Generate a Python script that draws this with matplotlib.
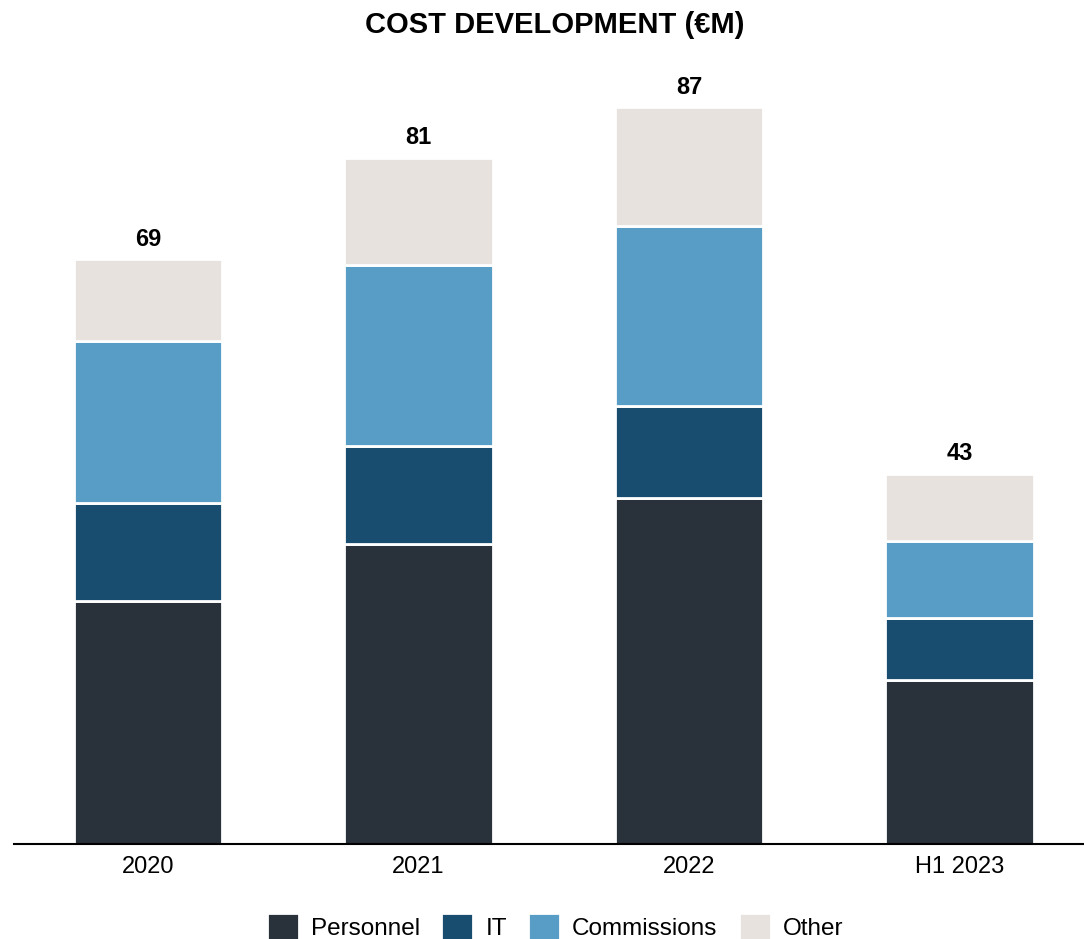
import matplotlib.pyplot as plt
import numpy as np

plt.rcParams['font.family'] = ['Liberation Sans', 'DejaVu Sans']

CATEGORIES = ["2020", "2021", "2022", "H1 2023"]
PERSONNEL = [28.7, 35.4, 40.8, 19.4]
IT = [11.6, 11.6, 10.9, 7.3]
COMMISSIONS = [19.1, 21.4, 21.3, 9.1]
OTHER = [9.6, 12.6, 14.0, 7.9]
TOTALS = [69, 81, 87, 43]

SERIES = [("Personnel", PERSONNEL, "#29313b"),
          ("IT", IT, "#184d70"),
          ("Commissions", COMMISSIONS, "#579dc6"),
          ("Other", OTHER, "#e7e2dd")]

fig = plt.figure(figsize=(10.84, 9.39), dpi=100)
ax = fig.add_axes([0.013, 0.1012, 0.987, 0.857])

x = np.arange(len(CATEGORIES))
bottom = np.zeros(len(CATEGORIES))
for name, vals, color in SERIES:
    ax.bar(x, vals, width=0.55, bottom=bottom, color=color, edgecolor="white",
           linewidth=2, label=name)
    bottom += np.array(vals)

# Totals above each bar
for xi, top, total in zip(x, bottom, TOTALS):
    ax.text(xi, top + 1.0, f"{total}", ha="center", va="bottom",
            fontsize=17, fontweight="bold")

ax.set_xlim(-0.495, 3.46)
ax.set_ylim(0, 95)
ax.set_xticks(x)
ax.set_xticklabels(CATEGORIES, fontsize=17)
ax.tick_params(axis="x", length=0, pad=9)
ax.set_yticks([])
for side in ["top", "right", "left"]:
    ax.spines[side].set_visible(False)
ax.spines["bottom"].set_linewidth(1.5)

fig.text(0.512, 0.973, "COST DEVELOPMENT (€M)", ha="center", va="center",
         fontsize=21, fontweight="bold")

fig.legend(loc="center", bbox_to_anchor=(0.512, 0.013), ncol=4, frameon=False,
           fontsize=17.5, handlelength=1.32, handleheight=1.4, columnspacing=0.87,
           handletextpad=0.5)

fig.savefig("out.png", dpi=100)
